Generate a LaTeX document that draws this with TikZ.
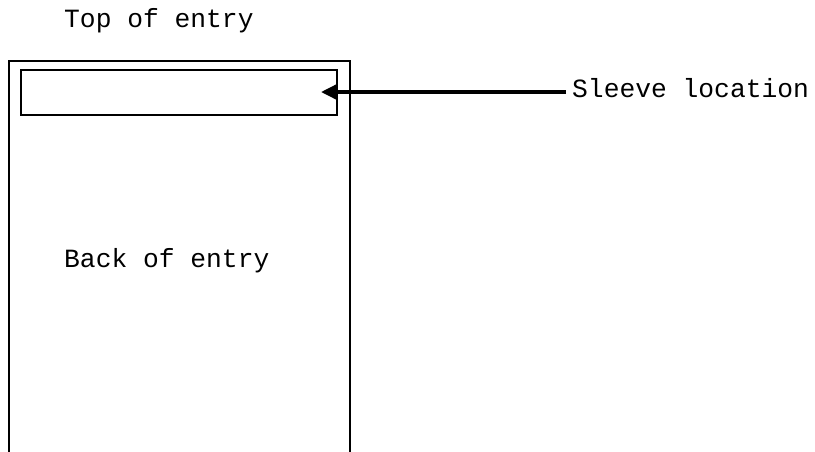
\documentclass[tikz,border=0pt]{standalone}
\usepackage{fontspec}
\setmonofont{Liberation Mono}
\usetikzlibrary{arrows.meta}
\tikzset{
  lbl/.style={font=\fontsize{26.3}{28}\selectfont\ttfamily, inner sep=0pt, anchor=base west},
  frame/.style={draw=black, line width=2pt},
  ptr/.style={draw=black, line width=3.4pt, -{Triangle[length=15pt,width=14pt]}}
}
\begin{document}
\begin{tikzpicture}[x=1pt,y=-1pt]
\useasboundingbox (0,0) rectangle (815,451);
% outer card outline (open at bottom)
\draw[frame] (8.5,455) -- (8.5,60.5) -- (350,60.5) -- (350,455);
% sleeve location box
\node[frame, minimum width=316pt, minimum height=45pt, anchor=north west, inner sep=0pt] (sleeve) at (20,68.5) {};
\node[lbl] (top) at (64,27) {Top of entry};
\node[lbl] (back) at (64,267) {Back of entry};
\node[lbl] (sl) at (572,97) {Sleeve location};
\coordinate (tip) at (321,92);
\draw[ptr] (sl.west |- tip) ++(-6,0) -- (tip);
\end{tikzpicture}
\end{document}
